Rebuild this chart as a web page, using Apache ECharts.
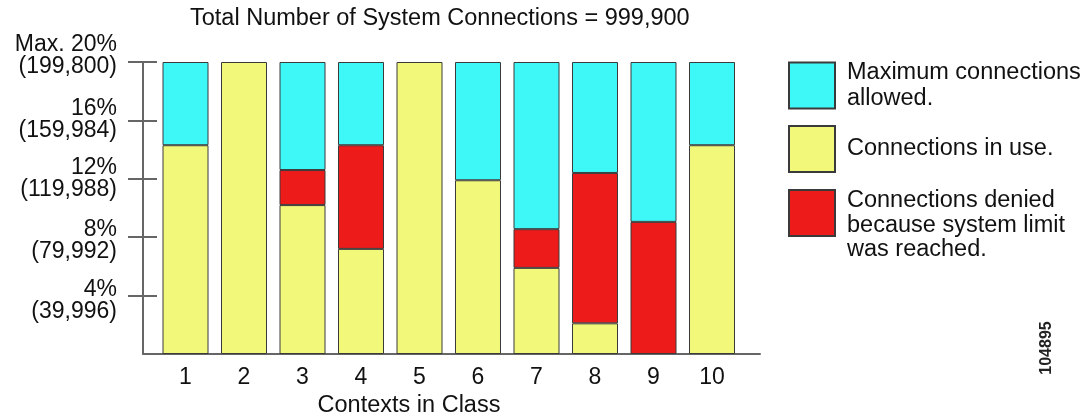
<!DOCTYPE html>
<html><head><meta charset="utf-8">
<script src="https://cdn.jsdelivr.net/npm/echarts@6/dist/echarts.min.js"></script>
<style>html,body{margin:0;padding:0;background:#fff}#c{width:1092px;height:416px}</style>
</head><body><div id="c"></div>
<script>
const categories = ['1','2','3','4','5','6','7','8','9','10'];
const inUse   = [14.3, 20, 10.2, 7.2, 20, 11.9, 5.9, 2.1, null, 14.3];
const denied  = [null, null, 2.4, 7.1, null, null, 2.65, 10.3, 9.05, null];
const allowed = [5.7, null, 7.4, 5.7, null, 8.1, 11.45, 7.6, 10.95, 5.7];
const yTicks = [4, 8, 12, 16, 20];
const yTickLabels = [['4%', '(39,996)'], ['8%', '(79,992)'], ['12%', '(119,988)'], ['16%', '(159,984)'], ['Max. 20%', '(199,800)']];
const seriesNames = ['Maximum connections\nallowed.', 'Connections in use.', 'Connections denied\nbecause system limit\nwas reached.'];
const titleText = 'Total Number of System Connections = 999,900';
const xName = 'Contexts in Class';
const figId = '104895';

const FONT = '"Liberation Sans", Arial, Helvetica, sans-serif';
const C_CYAN = '#3EF8F8', C_YEL = '#F2F97A', C_RED = '#EE1B1B';
const border = { borderColor: '#3a3a3a', borderWidth: 1 };
// vertical label nudges (px, negative = up) to follow the original label placement
const labelShift = [5.5, 3, 0.01, -1, -6.5];

const rich = { t: { fontFamily: FONT, fontSize: 23, lineHeight: 22, color: '#111', align: 'right' } };
labelShift.forEach((s, i) => {
  rich['s' + i] = { fontSize: 1, lineHeight: Math.max(0.02, Math.abs(s) * 2) };
});

const chart = echarts.init(document.getElementById('c'), null, { renderer: 'canvas' });
const legendBase = {
  orient: 'vertical', left: 788, padding: 0, itemWidth: 46, itemHeight: 46,
  icon: 'rect', selectedMode: false,
  textStyle: { fontFamily: FONT, fontSize: 23.5, lineHeight: 25, color: '#111', padding: [0, 0, 0, 7] }
};
const ax = { color: '#666', width: 2 };
chart.setOption({
  animation: false,
  backgroundColor: '#fff',
  title: {
    text: titleText, left: 190, top: 7, padding: 0,
    textStyle: { fontFamily: FONT, fontSize: 23.5, fontWeight: 'normal', color: '#111' }
  },
  legend: [
    Object.assign({}, legendBase, { top: 59, data: [seriesNames[0]],
      textStyle: Object.assign({}, legendBase.textStyle, { lineHeight: 26.5 }) }),
    Object.assign({}, legendBase, { top: 125, data: [seriesNames[1]] }),
    Object.assign({}, legendBase, { top: 164, data: [seriesNames[2]],
      formatter: n => '\n' + n,
      textStyle: Object.assign({}, legendBase.textStyle, { lineHeight: 24.5 }) })
  ],
  grid: [
    { left: 156.25, right: 350.75, top: 62, bottom: 62, outerBoundsMode: 'none', containLabel: false },
    { left: 143, right: 332, top: 62, bottom: 62, outerBoundsMode: 'none', containLabel: false }
  ],
  xAxis: [
    {
      type: 'category', gridIndex: 0, data: categories,
      axisLine: { show: false }, axisTick: { show: false }, splitLine: { show: false },
      axisLabel: { margin: 12, fontFamily: FONT, fontSize: 23, color: '#111' },
      name: xName, nameLocation: 'middle', nameGap: 31,
      nameTextStyle: { fontFamily: FONT, fontSize: 23.5, color: '#111', padding: [0, 79.5, 0, 0] }
    },
    {
      type: 'value', gridIndex: 1, min: 0, max: 1,
      axisLine: { show: true, lineStyle: ax },
      axisTick: { show: false }, axisLabel: { show: false }, splitLine: { show: false }
    }
  ],
  yAxis: [
    {
      type: 'value', gridIndex: 0, min: 0, max: 20, show: false
    },
    {
      type: 'value', gridIndex: 1, min: 0, max: 20, position: 'left',
      axisLine: { show: true, lineStyle: ax },
      axisTick: { show: true, inside: false, length: 15, customValues: yTicks, lineStyle: ax },
      splitLine: { show: false },
      axisLabel: {
        customValues: yTicks, margin: 26, showMinLabel: true, showMaxLabel: true, hideOverlap: false,
        align: 'right', verticalAlign: 'middle',
        formatter: v => {
          const i = yTicks.indexOf(v);
          if (i < 0) return '';
          const l = yTickLabels[i], s = labelShift[i];
          let txt = '{t|' + l[0] + '}\n{t|' + l[1] + '}';
          if (s < 0) txt = txt + '\n{s' + i + '| }';
          else if (s > 0.1) txt = '{s' + i + '| }\n' + txt;
          return txt;
        },
        rich: rich
      }
    },
    {
      type: 'value', gridIndex: 1, min: 0, max: 20, position: 'left', offset: 0,
      axisLine: { show: false },
      axisTick: { show: true, inside: true, length: 14, customValues: yTicks, lineStyle: ax },
      splitLine: { show: false }, axisLabel: { show: false }
    }
  ],
  series: [
    { name: seriesNames[1], type: 'bar', stack: 's', barWidth: 46, xAxisIndex: 0, yAxisIndex: 0,
      itemStyle: Object.assign({ color: C_YEL }, border), data: inUse },
    { name: seriesNames[2], type: 'bar', stack: 's', barWidth: 46, xAxisIndex: 0, yAxisIndex: 0,
      itemStyle: Object.assign({ color: C_RED }, border), data: denied },
    { name: seriesNames[0], type: 'bar', stack: 's', barWidth: 46, xAxisIndex: 0, yAxisIndex: 0,
      itemStyle: Object.assign({ color: C_CYAN }, border), data: allowed }
  ],
  graphic: [{
    type: 'text', x: 1047, y: 348, rotation: Math.PI / 2,
    style: { text: figId, fontFamily: '"Liberation Sans Narrow", "Liberation Sans", sans-serif', fontSize: 16, fontWeight: 'bold',
      fill: '#222', align: 'center', verticalAlign: 'middle' }
  }]
});
</script></body></html>
